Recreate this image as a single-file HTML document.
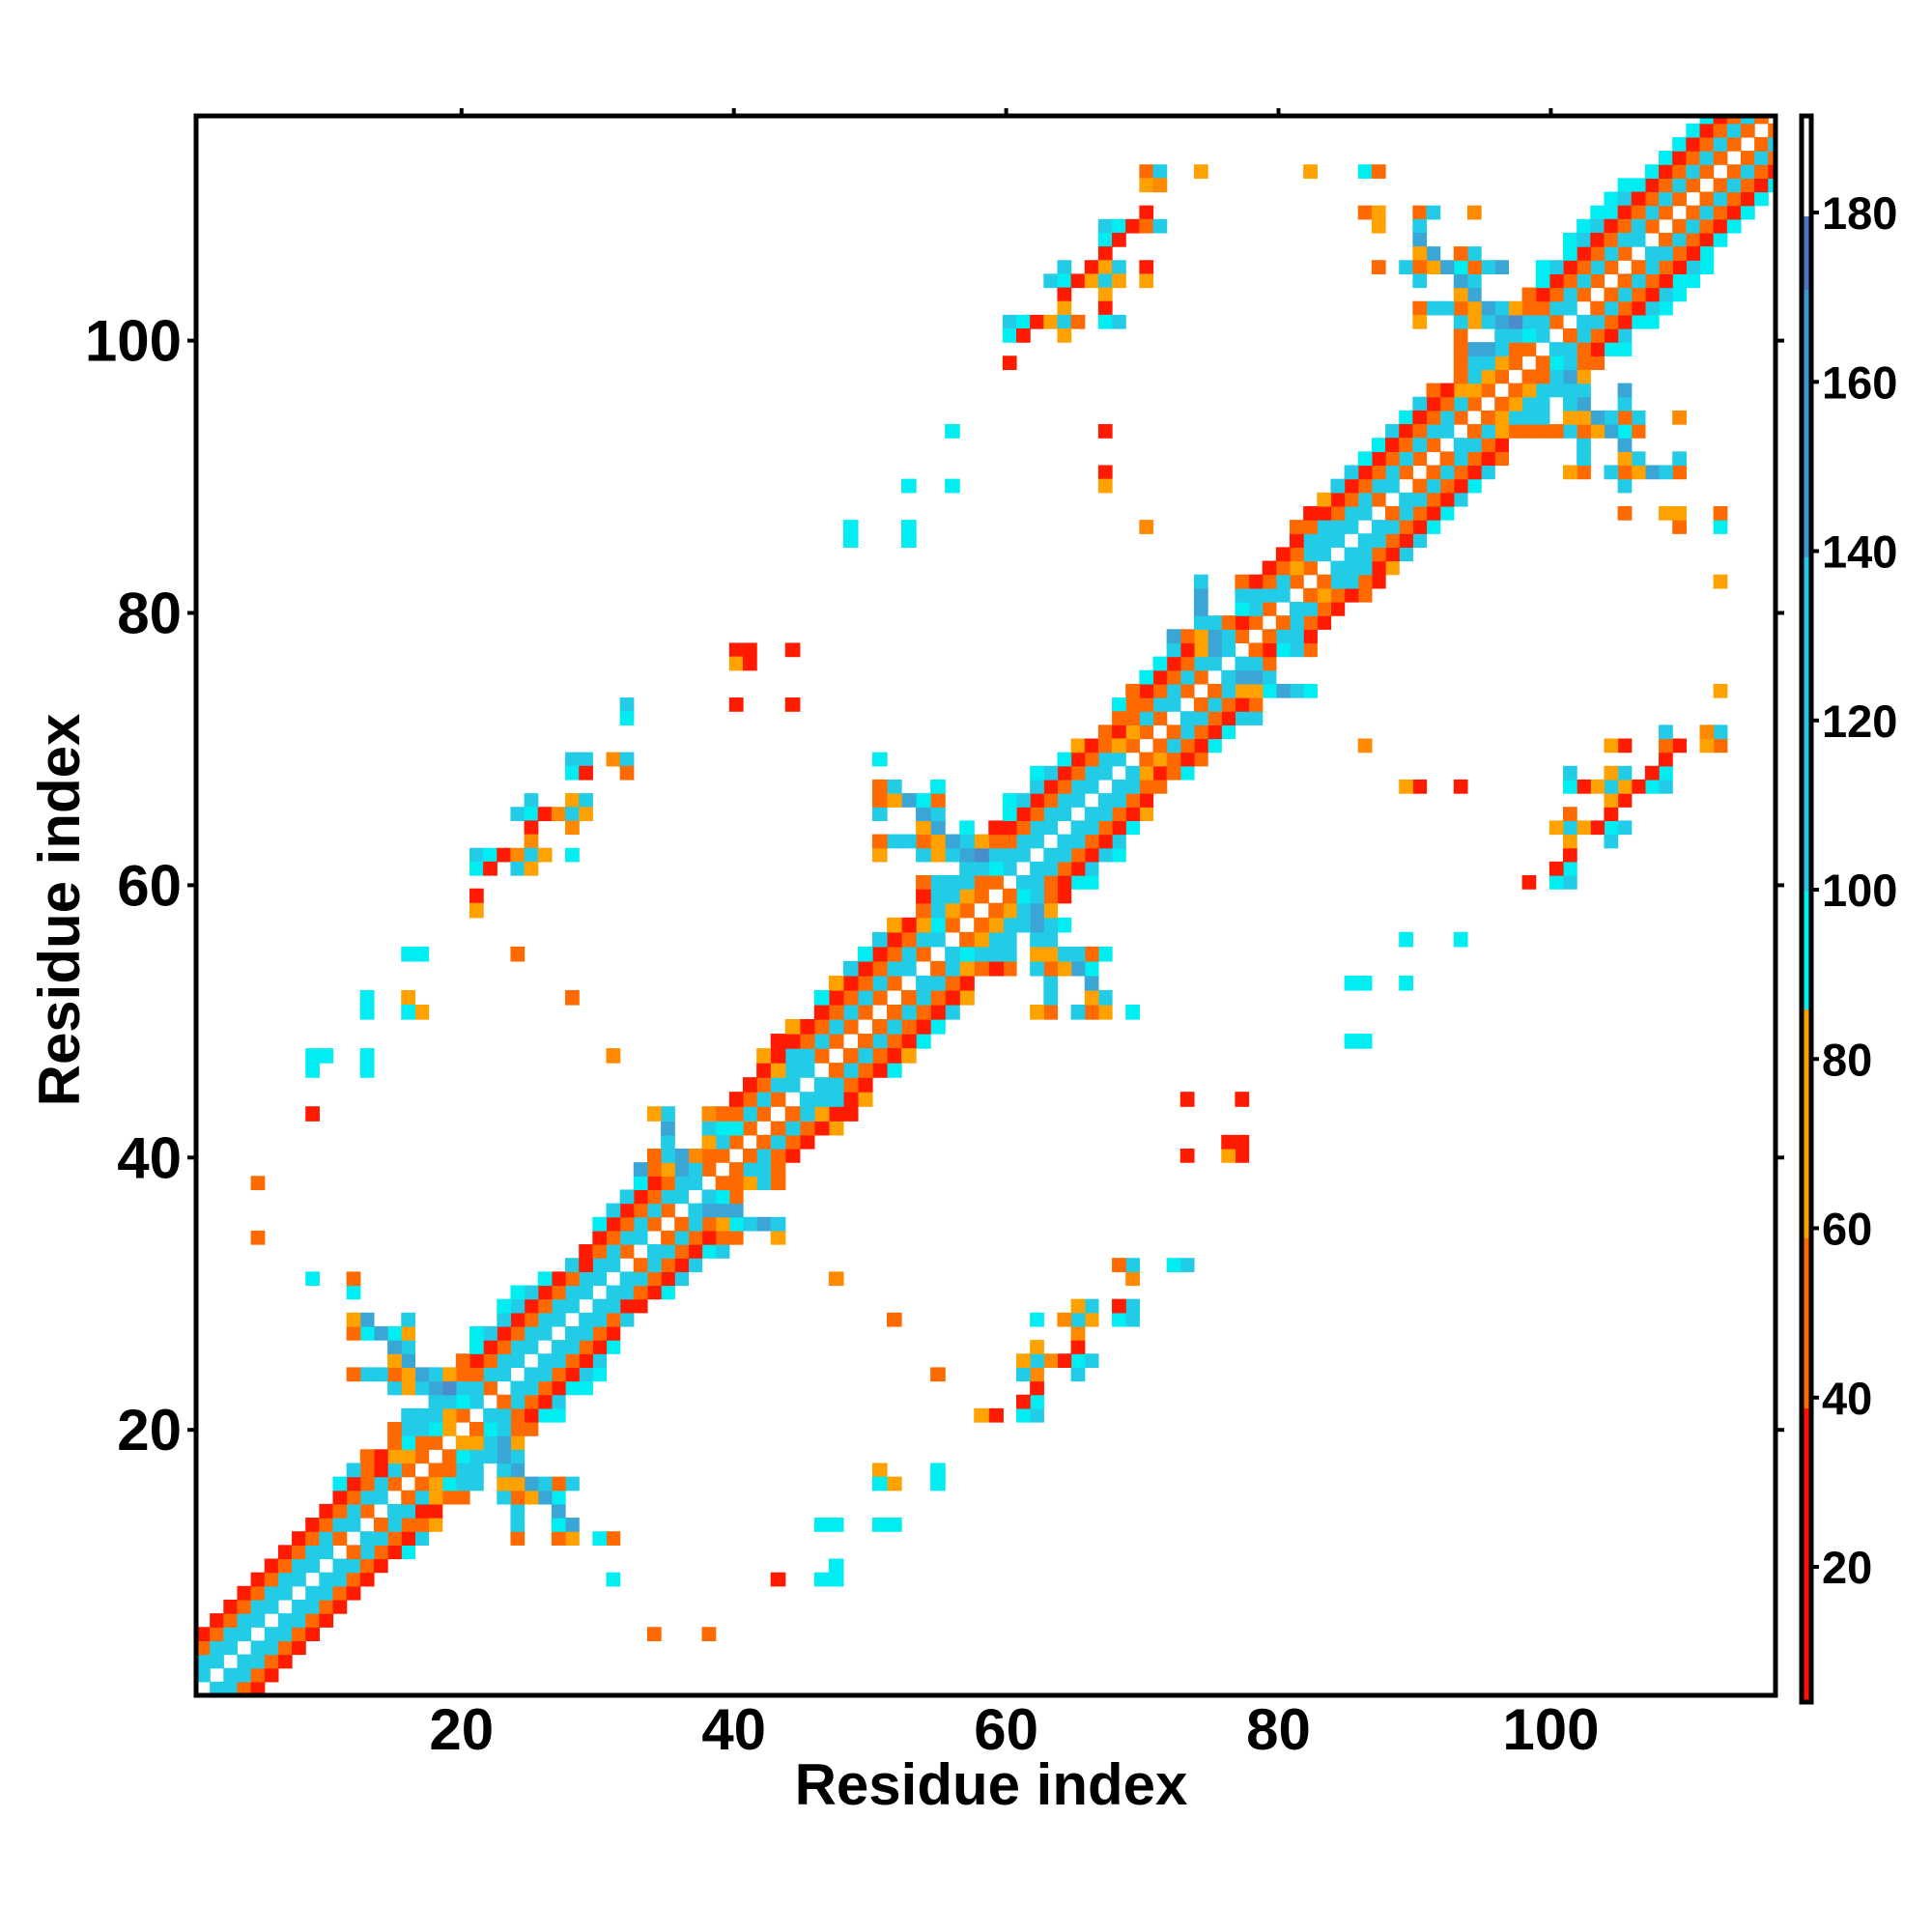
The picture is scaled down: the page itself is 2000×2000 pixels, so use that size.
<!DOCTYPE html>
<html><head><meta charset="utf-8">
<style>
html,body{margin:0;padding:0;background:#fff;}
svg{display:block;}
text{font-family:"Liberation Sans",Arial,sans-serif;font-weight:bold;fill:#000;}
</style></head>
<body>
<svg id="s" xmlns="http://www.w3.org/2000/svg" width="2000" height="2000" viewBox="0 0 2000 2000">
<defs>
<clipPath id="pc"><rect x="203" y="120" width="1635" height="1635"/></clipPath>
</defs>
<rect width="2000" height="2000" fill="#fff"/>
<g id="cells" clip-path="url(#pc)"></g>
<rect x="203" y="120" width="1635" height="1635" fill="none" stroke="#000" stroke-width="5"/>
<g id="cbar"></g>
<rect x="1865" y="120" width="10" height="1642" fill="none" stroke="#000" stroke-width="5"/>
<g id="axes"></g>
<text x="1026" y="1868" font-size="60" text-anchor="middle">Residue index</text>
<text x="0" y="0" font-size="60" text-anchor="middle" transform="translate(82,942) rotate(-90)">Residue index</text>
</svg>
<script>
(function(){
var L=203,B=1755,N=116,W=1635/116,WC=14.15;
function pos(r){var s=(r-42)/16; if(s<0)s=0; if(s>1)s=1; return r+s;}
function dpos(r){return (r>42&&r<=58)?1+1/16:1;}
function cx(r){return 203+(pos(r)-0.5)*WC;}
function cy(r){return 1755-(pos(r)-0.5)*WC;}
var COL={R:"#ff1a00",O:"#ff6a00",Y:"#ffa200",Q:"#ff8a00",C:"#00eef2",T:"#22cce6",B:"#3aa6d6",D:"#4a8ccc"};
var M={};
function key(x,y){return x+","+y;}
function set(x,y,c){if(x<1||y<1||x>N||y>N)return;M[key(x,y)]=c;}
var bandC={1:"O",2:"T",3:"O",4:"R"};
for(var i=1;i<=N;i++){for(var j=1;j<=N;j++){var d=Math.abs(i-j);
 var c=bandC[d];
 if(i<=12&&j<=12){ if(d==1)c="T"; }
 if(d>=1&&d<=4)set(i,j,c);
 if(d==5&&i>=100&&j>=100)set(i,j,"C");}}
var regions=[
 {x0:59,y0:111,rows:["..........OT..Y","..........YQ...","...............","..........R....",".......TCROT...",".......CR......",".......R.......","....T.RYT.R....","...TCRYTY.Y....","....R..Y.......","....Y..R.......","TCRYTO.CT......","CR..Y..........","...............","R.............."],clear:false},
 {x0:85,y0:111,clear:true,rows:[
 "CO...................",
 "...................CC",
 "..................CTR",
 "OY..OT..Q........CCRO",
 ".Y..T...........CTROT",
 "....B..........CTROTT",
 "....YB.OT......CROTO.",
 ".O.TOYBCOTB..CTROTO.O",
 "....T..BT....CROTO.OT",
 ".......YB...OROTO.OTO",
 "....OTTOYBTYOOTT.OTOR",
 "....Y..TYTBDTTO.TTORC",
 "..........TTCT.OTORT.",
 ".......OBBTOO.TTORCC.",
 ".......OTTYO.OCTOO...",
 ".......OTYO.OOTBY....",
 ".....ORYYO.OYTTTT..B.",
 "....TROTO.OYTT.TB..T.",
 "...CROTO.OYTTT.YYBTOT",
 "..TROTT.OTYOOOOTOYBCO",
 ".CROTO.TTOR.....T..B.",
 "CROTO.OTORO.....T..YT"]},
 {x0:48,y0:70,clear:true,rows:[
 "..................ORY",
 "................YROYO",
 "..C............CROTT.",
 ".............CTROTT.T",
 "..OT..C......TROTT.TT",
 "..OYBCO....CTROTT.TTO",
 "..T..BT....CROTT.TTOR",
 ".....YB.C.RROTT.TTORC",
 "..OTTOYBTYOOTT.TTORT.",
 "..Y..TYTBDTTT.TTORTC.",
 "........TTCT.TTORT...",
 ".....OTTTOO.TTORCC...",
 ".....RTTYO.OCTOR.....",
 ".....OTYO.OYTBY......",
 "...YRYCO.OYTTBTC.....",
 "..TROTT.OYTT.TT......",
 ".CROTO.TCTTT.YYTTOC..",
 "TROTT.OTYORO.TOYBC...",
 "ROTO.TTOR.....T..B...",
 "OTO.OTORY.....T..YT..",
 "TO.OTORT.....YO.TOY.C",
 "O.OTORC.............."]},
 {x0:11,y0:32,clear:true,rows:[
 ".................TROT",
 ".O.............CROTT.",
 ".C...........CTROTT.T",
 "............CTROTT.TT",
 ".YB..T......TROTT.TTO",
 ".OCBCY....CTROTT.TTOR",
 "....BT....CROTT.TTORC",
 "....YB...OROTT.TTORT.",
 ".OTTOYBTYOOTT.TTORTC.",
 "....TYTBDTTO.TTORCC..",
 ".......TTCT.OTORT....",
 ".....TTTYO.TTORCC....",
 "....OTTCY.OCTOO......",
 "....OCOO.YYTBY.......",
 "..ORYYO.OCTTBT.......",
 ".TORTO.OOTT.TB.......",
 "CROTO.OYCTT.YYBTOT...",
 "ROTT.OTYOO..TOYBC....",
 "OTO.TTRR.....T..B....",
 "TT.OTOOY.....T..CB...",
 "O.TTORT......O..OY.CO",
 ".OTORC..............."]},
 {x0:30,y0:51,clear:true,rows:[
 "................CROTO.OT",
 "................ROTO.OTO",
 "..............YROTO.OTOR",
 ".............RROTO.OTORC",
 ".Q..........YRTTO.OTORY.",
 "............RYTT.OTORC..",
 "...........ROTT.TTOR....",
 "..........ROTO.TTTRY....",
 "....YT..QOOTO.OTYRR.....",
 ".....B..TCCO.OTORY......",
 ".....T..YTO.OTOR........",
 "....OTBQOO.OTOR.........",
 "...BOYBTO.OTTO..........",
 "...CROTT.OOYTO..........",
 "..TROTT.TCO.............",
 ".TROTO.TBBB.............",
 "CROTO.OTOYCTBT..........",
 "ROTT.OTOROO..Y..........",
 "OTO.TTORCT..............",
 "TT.OTORT................",
 "T.TTORT..........Q......",
 ".TTORC.................."]},
 {x0:67,y0:90,clear:true,rows:[
 "..................CROTO.",
 ".................TROTO.O",
 "................TROTT.OT",
 "...............YROTO.TTO",
 "..............RROTT.OTOR",
 "..Q..........OOTTT.TTORC",
 ".............RTTT.TTORT.",
 "............ROTT.TTORT..",
 "...........ROYO.TTTRY...",
 "......T..OROTO.OTTOR....",
 "......B..TTTT.OYORO.....",
 "......B..CTO.TTOR.......",
 "......TTORO.OTOR........",
 "....BOYBTO.OTTR.........",
 "....TRYBT.ORCTO.........",
 "...CROTT.TTO............",
 "..CROTO.TBBT............",
 ".OROTO.OTYYCBTC.........",
 "COOTT.OTORO.............",
 "OOTO.TTORTT.............",
 "RYO.OTORC...............",
 "YO.OTORC..........Q.....",
 "T.OYORO................."]},
 {x0:21,y0:72,clear:false,rows:[
 "...........T","...........C","............","............",".......TT.QT",".......CR..O","............","....T..YT...","...TCRQTY...","....R..Q....","....Q.......","TCRQTY.C....","CR.TY.......","............","R...........","Y..........."]}
];
regions.forEach(function(r){ if(!r.clear)return;
 var w=r.rows[0].length,h=r.rows.length;
 for(var a=0;a<w;a++)for(var b=0;b<h;b++){var x=r.x0+a,y=r.y0-b; delete M[key(x,y)]; delete M[key(y,x)];}
});
var sparse=[[5,34,"O"],[5,38,"O"],[9,43,"R"],[9,31,"C"],[9,47,"C"],[10,47,"C"],[9,46,"C"],[13,47,"C"],[13,46,"C"],[13,51,"C"],[13,50,"C"],[16,51,"Y"],[17,50,"Y"],[16,50,"C"],[16,54,"C"],[17,54,"C"],[24,54,"O"],[28,51,"O"],[40,76,"R"],[41,76,"R"],[40,75,"Y"],[41,75,"R"],[44,76,"R"],[40,72,"R"],[44,72,"R"],[48,85,"C"],[48,84,"C"],[52,85,"C"],[52,84,"C"],[52,88,"C"],[55,88,"C"],[55,92,"C"],[66,92,"R"],[66,89,"R"],[66,88,"Y"],[81,111,"Y"]];
regions.forEach(function(r){r.rows.forEach(function(row,b){for(var a=0;a<row.length;a++){var c=row[a];if(c==".")continue;set(r.y0-b,r.x0+a,c);}});});
sparse.forEach(function(p){set(p[1],p[0],p[2]);});
regions.forEach(function(r){r.rows.forEach(function(row,b){for(var a=0;a<row.length;a++){var c=row[a];if(c==".")continue;set(r.x0+a,r.y0-b,c);}});});
sparse.forEach(function(p){set(p[0],p[1],p[2]);});
var g=document.getElementById("cells"),html="";
for(var k in M){var p=k.split(","),x=+p[0],y=+p[1];
 var wx=WC*dpos(x), wy=WC*dpos(y);
 var px=cx(x)-wx/2, py=cy(y)-wy/2;
 html+='<rect x="'+px.toFixed(2)+'" y="'+py.toFixed(2)+'" width="'+(wx+0.6).toFixed(2)+'" height="'+(wy+0.6).toFixed(2)+'" fill="'+COL[M[k]]+'"/>';}
g.innerHTML=html;
var cb=document.getElementById("cbar");
var segs=[[120,224,"#ffffff"],[224,300,"#4a78c0"],[300,577,"#3a9ad0"],[577,923,"#22c8e6"],[923,1045,"#00eeee"],[1045,1282,"#ffa000"],[1282,1458,"#ff6a00"],[1458,1762,"#ff1000"]];
var s="";segs.forEach(function(q){s+='<rect x="1865" y="'+q[0]+'" width="10" height="'+(q[1]-q[0])+'" fill="'+q[2]+'"/>';});
cb.innerHTML=s;
var ax=document.getElementById("axes"),t="";
[20,40,60,80,100].forEach(function(v){
 var x=L+(v-0.5)*W, y=B-(v-0.5)*W;
 t+='<text x="'+x.toFixed(1)+'" y="1811" font-size="60" text-anchor="middle">'+v+'</text>';
 t+='<line x1="'+x.toFixed(1)+'" y1="112" x2="'+x.toFixed(1)+'" y2="120" stroke="#000" stroke-width="4"/>';
 t+='<text x="188" y="'+(y+21).toFixed(1)+'" font-size="60" text-anchor="end">'+v+'</text>';
 t+='<line x1="194" y1="'+y.toFixed(1)+'" x2="203" y2="'+y.toFixed(1)+'" stroke="#000" stroke-width="4"/>';
 t+='<line x1="1838" y1="'+y.toFixed(1)+'" x2="1847" y2="'+y.toFixed(1)+'" stroke="#000" stroke-width="4"/>';
});
for(var v=20;v<=180;v+=20){var y=1622-(v-20)*8.7625;
 t+='<line x1="1875" y1="'+y.toFixed(1)+'" x2="1883" y2="'+y.toFixed(1)+'" stroke="#000" stroke-width="4"/>';
 t+='<text x="1886" y="'+(y+17).toFixed(1)+'" font-size="47">'+v+'</text>';}
ax.innerHTML=t;
})();
</script>
</body></html>
